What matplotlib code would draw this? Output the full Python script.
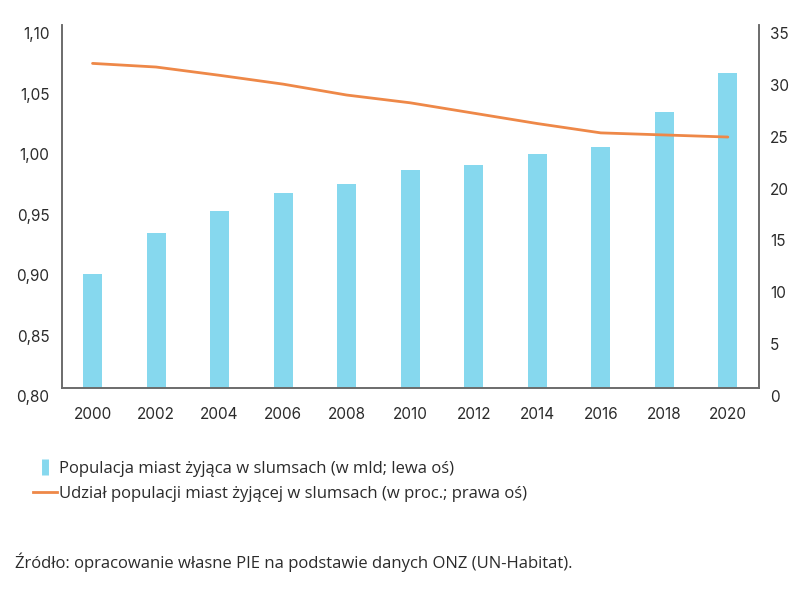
import matplotlib
matplotlib.use("Agg")
import matplotlib.pyplot as plt
import matplotlib.transforms as mtransforms
from matplotlib.lines import Line2D
import numpy as np

years = ['2000', '2002', '2004', '2006', '2008', '2010', '2012', '2014', '2016', '2018', '2020']
slum_pop_bn = [0.894, 0.928, 0.946, 0.961, 0.969, 0.980, 0.984, 0.993, 0.999, 1.028, 1.060]
slum_share_pct = [31.3, 30.95, 30.15, 29.3, 28.25, 27.5, 26.5, 25.5, 24.6, 24.4, 24.2]
left_ticks = [0.80, 0.85, 0.90, 0.95, 1.00, 1.05, 1.10]
right_ticks = [0, 5, 10, 15, 20, 25, 30, 35]

bar_color = '#86d8ee'
line_color = '#ee8848'
spine_color = '#6b6b6b'
text_color = '#2b2b2b'


def main():
    fig = plt.figure(figsize=(8.12, 6.0), dpi=100)
    ax = fig.add_axes([0.0764, 0.3533, 0.8583, 0.605])
    x = np.arange(len(years))

    ax.bar(x, slum_pop_bn, width=0.3, color=bar_color, zorder=2)
    ax.set_ylim(0.80, 1.10)
    ax.set_xlim(-0.48, 10.49)
    ax.set_yticks(left_ticks)
    ax.set_yticklabels([f"{t:.2f}".replace('.', ',') for t in left_ticks])
    ax.set_xticks(x)
    ax.set_xticklabels(years)

    ax2 = ax.twinx()
    ax2.plot(x, slum_share_pct, color=line_color, lw=2, solid_joinstyle='round',
             solid_capstyle='round', zorder=3)
    ax2.set_ylim(0, 35)
    ax2.set_yticks(right_ticks)

    for a in (ax, ax2):
        a.spines['top'].set_visible(False)
        for s in ('left', 'right', 'bottom'):
            a.spines[s].set_color(spine_color)
            a.spines[s].set_linewidth(1.2)
        a.tick_params(length=0, colors=text_color, labelsize=11)
        for lab in a.get_xticklabels() + a.get_yticklabels():
            lab.set_fontfamily('Inter')
    ax.tick_params(axis='y', pad=9)
    ax.tick_params(axis='x', pad=14)
    ax2.tick_params(axis='y', pad=8)

    # tick labels in the reference sit a few pixels below their gridline
    shift = mtransforms.ScaledTranslation(0, -8 / 100, fig.dpi_scale_trans)
    for lab in ax.get_yticklabels() + ax2.get_yticklabels():
        lab.set_transform(lab.get_transform() + shift)

    handles = [Line2D([0], [0], linestyle='none', marker='|', markersize=12,
                      markeredgewidth=5, color=bar_color),
               Line2D([0], [0], color=line_color, lw=2)]
    labels = ['Populacja miast żyjąca w slumsach (w mld; lewa oś)',
              'Udział populacji miast żyjącej w slumsach (w proc.; prawa oś)']
    fig.legend(handles, labels, loc='upper left', bbox_to_anchor=(33 / 812, 1 - 461 / 600),
               frameon=False, handlelength=1.45, handletextpad=0.1,
               labelspacing=0.55, borderaxespad=0, borderpad=0,
               prop={'family': 'Open Sans', 'size': 12}, labelcolor=text_color)

    fig.text(15 / 812, 1 - 562 / 600, 'Źródło: opracowanie własne PIE na podstawie danych ONZ (UN-Habitat).',
             ha='left', va='center', fontsize=12, family='Open Sans', color=text_color)

    fig.savefig('out.png', dpi=100, facecolor='white')
    plt.close(fig)


if __name__ == "__main__":
    main()
